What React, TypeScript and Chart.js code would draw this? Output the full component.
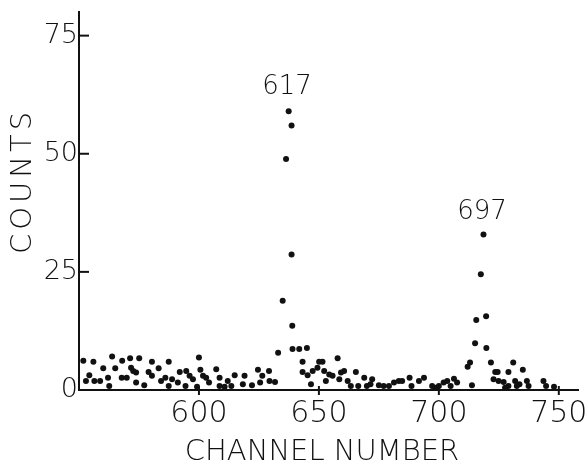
import { useEffect, useRef } from "react";
import { Chart, registerables } from "chart.js";

Chart.register(...registerables);

const channels = [
  551.8, 556.0, 563.8, 568.0, 571.3, 575.1, 580.4, 587.4, 583.2, 560.1,
  565.1, 554.3, 562.1, 571.7, 572.6, 573.8, 567.8, 569.9, 552.9, 556.4,
  558.8, 562.6, 579.0, 580.4, 573.8, 577.2, 586.0, 588.8, 587.4, 584.2,
  600.0, 592.0, 594.7, 600.6, 607.2, 591.2, 596.1, 597.5, 601.7, 603.0,
  604.2, 594.4, 599.2, 608.6, 612.0, 608.6, 610.7, 613.5, 614.9, 619.0,
  618.3, 622.1, 624.6, 626.4, 625.5, 629.2, 629.4,
  631.7, 643.2, 645.3, 647.4, 650.1, 651.5, 649.4, 646.7, 652.2, 654.3,
  655.7, 652.9, 657.8, 659.2, 660.5, 658.5, 662.0, 665.4, 668.9, 663.3,
  666.4, 670.0, 643.2,
  637.4, 638.6, 636.3, 638.6, 634.9, 638.9, 633.0, 639.0, 641.8, 645.0,
  672.2, 671.5, 675.0, 677.0, 679.2, 681.3, 683.3, 684.7, 687.8, 688.6,
  691.7, 693.8, 697.2, 698.6, 700.0, 702.0, 703.5, 704.9, 706.3, 707.6,
  712.0, 713.0, 715.1, 715.6, 717.5, 718.6, 719.7, 719.8, 721.7, 731.0,
  723.5, 724.5, 729.0, 735.0, 713.8, 722.8, 724.9, 727.0, 729.0, 727.6,
  731.8, 732.5, 733.6, 736.7, 737.4, 743.6, 744.7, 748.0,
];

const counts = [
  6.2, 6.0, 7.1, 6.2, 6.7, 6.7, 6.0, 6.0, 4.6, 4.6,
  4.6, 3.1, 2.6, 4.7, 4.0, 3.7, 2.6, 2.6, 1.9, 1.9,
  1.9, 0.85, 3.8, 3.0, 1.6, 1.0, 2.6, 2.3, 0.85, 1.9,
  6.9, 3.8, 4.0, 4.3, 4.4, 1.6, 3.0, 2.3, 3.0, 2.6,
  1.6, 0.85, 0.7, 2.6, 1.9, 0.85, 0.7, 0.85, 3.1, 3.0,
  1.2, 1.0, 4.3, 3.0, 1.6, 4.0, 1.9,
  1.7, 3.8, 3.1, 4.0, 6.0, 6.0, 4.7, 1.2, 4.0, 3.3,
  3.0, 1.9, 6.7, 3.7, 4.0, 2.3, 1.9, 3.8, 2.6, 0.85,
  0.85, 0.85, 6.0,
  59.0, 56.0, 48.9, 28.7, 18.9, 13.6, 7.9, 8.7, 8.7, 8.9,
  2.3, 1.2, 1.0, 0.85, 0.85, 1.6, 1.9, 1.9, 2.6, 0.85,
  1.9, 2.6, 0.85, 0.5, 0.85, 1.6, 1.9, 0.85, 2.4, 1.6,
  4.9, 5.8, 9.9, 14.8, 24.5, 32.9, 15.6, 8.9, 5.8, 5.8,
  3.8, 3.8, 3.8, 4.3, 1.0, 2.3, 1.9, 1.7, 0.85, 0.5,
  1.9, 0.85, 1.2, 1.9, 0.85, 1.9, 0.85, 0.7,
];

const xTicks = [600, 650, 700, 750];
const yTicks = [0, 25, 50, 75];
const peakLabels = ["617", "697"];
const peakLabelChannels = [636.7, 718.0];
const peakLabelCounts = [64.0, 37.7];
const xTitle = "CHANNEL NUMBER";
const yTitle = "COUNTS";

const FAMILY = "'DejaVu Sans', sans-serif";
const INK = "#111";

export default function App() {
  const ref = useRef<HTMLCanvasElement | null>(null);

  useEffect(() => {
    document.body.style.margin = "0";
    const canvas = ref.current;
    if (!canvas) return;

    const overlay = {
      id: "overlay",
      afterDraw(chart: any) {
        const { ctx, chartArea, scales } = chart;
        const xs = scales.x;
        const ys = scales.y;
        ctx.save();
        ctx.strokeStyle = INK;
        ctx.lineWidth = 2;
        yTicks.forEach((v) => {
          if (v === 0) return;
          const py = ys.getPixelForValue(v);
          ctx.beginPath();
          ctx.moveTo(chartArea.left, py);
          ctx.lineTo(chartArea.left + 10, py);
          ctx.stroke();
        });
        xTicks.forEach((v) => {
          const px = xs.getPixelForValue(v);
          ctx.beginPath();
          ctx.moveTo(px, chartArea.bottom - 4);
          ctx.lineTo(px, chartArea.bottom + 5);
          ctx.stroke();
        });
        ctx.fillStyle = INK;
        ctx.textAlign = "center";
        ctx.textBaseline = "middle";
        ctx.font = `200 26px ${FAMILY}`;
        peakLabels.forEach((t, i) => {
          ctx.fillText(
            t,
            xs.getPixelForValue(peakLabelChannels[i]),
            ys.getPixelForValue(peakLabelCounts[i])
          );
        });
        ctx.font = `200 29px ${FAMILY}`;
        ctx.fillText(xTitle, 322, 452);
        ctx.translate(23, 183);
        ctx.rotate(-Math.PI / 2);
        (ctx as any).letterSpacing = "4px";
        ctx.fillText(yTitle, 2, 0);
        ctx.restore();
      },
    };

    const xTickFont = { family: FAMILY, size: 30, weight: 200 as any };
    const yTickFont = { family: FAMILY, size: 27, weight: 200 as any };

    const chart = new Chart(canvas, {
      type: "scatter",
      data: {
        datasets: [
          {
            data: channels.map((c, i) => ({ x: c, y: counts[i] })),
            backgroundColor: INK,
            borderColor: INK,
            pointRadius: 3,
            pointBorderWidth: 0,
          },
        ],
      },
      options: {
        animation: false,
        responsive: false,
        maintainAspectRatio: false,
        layout: { padding: { top: 12, right: 8, left: 0, bottom: 0 } },
        plugins: { legend: { display: false }, tooltip: { enabled: false } },
        scales: {
          x: {
            type: "linear",
            min: 550,
            max: 758,
            afterBuildTicks: (s: any) => {
              s.ticks = xTicks.map((v) => ({ value: v }));
            },
            afterFit: (s: any) => {
              s.height = 74;
              s.paddingLeft = 0;
              s.paddingRight = 0;
            },
            grid: { display: false, drawTicks: false },
            border: { display: true, color: INK, width: 2 },
            ticks: {
              font: xTickFont,
              color: INK,
              padding: 6,
              maxRotation: 0,
              autoSkip: false,
            },
          },
          y: {
            type: "linear",
            min: 0,
            max: 80,
            afterBuildTicks: (s: any) => {
              s.ticks = yTicks.map((v) => ({ value: v }));
            },
            afterFit: (s: any) => {
              s.width = 79;
              s.paddingTop = 0;
              s.paddingBottom = 0;
            },
            grid: { display: false, drawTicks: false },
            border: { display: true, color: INK, width: 2 },
            ticks: {
              font: yTickFont,
              color: INK,
              padding: 1,
              autoSkip: false,
            },
          },
        },
      },
      plugins: [overlay],
    });

    return () => chart.destroy();
  }, []);

  return (
    <div style={{ position: "fixed", left: 0, top: 0, width: 586, height: 464, background: "#fff" }}>
      <canvas ref={ref} width={586} height={464} />
    </div>
  );
}
